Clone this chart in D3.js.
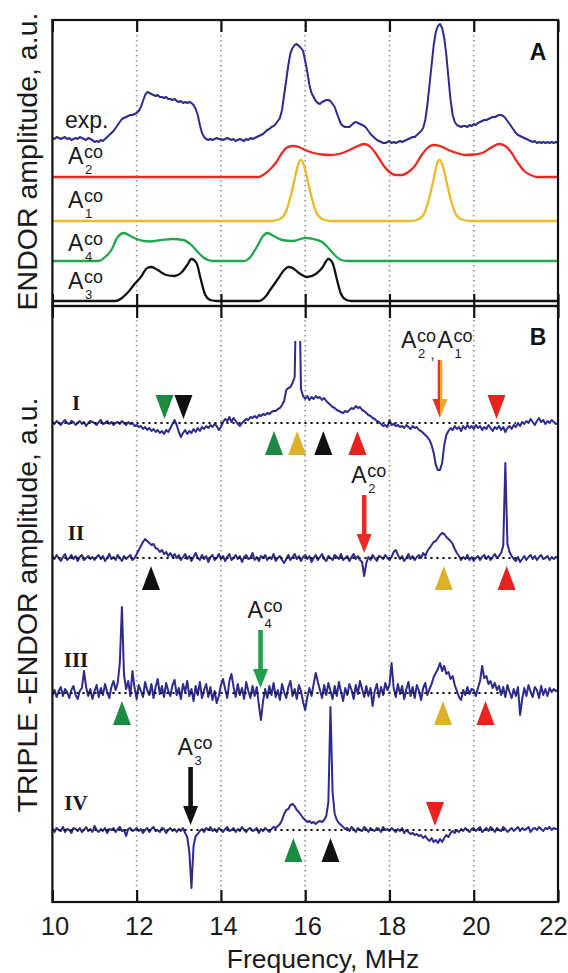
<!DOCTYPE html>
<html>
<head>
<meta charset="utf-8">
<script src="https://cdn.jsdelivr.net/npm/d3@7"></script>
<style>
  html, body { margin: 0; padding: 0; background: #fff; }
  svg { display: block; }
</style>
</head>
<body>
<svg id="chart"></svg>
<script>
// ---- data ----
const tickFreqs = [10, 12, 14, 16, 18, 20, 22];
const gridFreqs = [12, 14, 16, 18, 20];

// sampled every 0.05 MHz from 10 to 22 MHz
const expAmp = [
  5,4,6,5,4,5,6,4,5,3,4,5,4,6,5,4,3,5,4,3,
  1,2,1,3,2,4,6,8,10,12,15,18,21,24,25,26,27,28,28,29,
  30,32,36,42,48,51,50,49,48,47,48,46,46,45,46,44,44,43,44,42,
  41,42,40,41,40,41,40,38,34,28,18,10,6,4,3,4,3,4,5,4,
  4,3,4,5,4,3,4,2,3,4,3,2,4,3,5,4,5,6,7,8,
  9,11,13,14,16,17,19,22,25,33,48,63,78,90,95,98,99,97,95,92,
  82,71,58,50,46,42,40,39,41,42,43,43,42,39,36,30,24,19,17,16,
  16,16,18,20,21,20,19,18,17,15,12,9,7,5,3,2,1,0,0,1,
  2,0,1,0,1,2,1,2,3,4,5,6,6,8,10,12,15,23,38,58,
  78,98,111,117,119,115,105,88,65,43,28,21,18,17,16,17,17,16,18,17,
  19,18,20,21,22,23,23,24,25,26,26,27,28,28,27,25,22,19,16,13,
  10,8,7,6,5,4,3,2,1,2,0,1,0,1,0,1,0,1,0,1,
  0
];

// simulated ENDOR components [MHz, amplitude]
const a2Curve = [[10,0],[14.9,0],[15.0,2],[15.15,7],[15.3,14],[15.45,24],[15.55,29],[15.7,31],[15.85,30],[16.0,27],[16.2,24],[16.4,22.5],[16.6,22],[16.8,23],[17.0,26],[17.2,30],[17.4,33],[17.55,30],[17.7,22],[17.85,12],[18.0,5],[18.15,2],[18.3,2],[18.45,5],[18.6,11],[18.75,21],[18.9,29],[19.05,32],[19.2,31],[19.4,27],[19.6,24],[19.8,22],[20.0,22.5],[20.2,24],[20.4,29],[20.6,33],[20.75,31],[20.9,24],[21.05,14],[21.2,6],[21.35,2],[21.5,0],[22,0]];
const a1Curve = [[10,0],[15.2,0],[15.4,2],[15.55,10],[15.65,24],[15.75,42],[15.83,56],[15.9,61],[15.97,56],[16.05,42],[16.15,24],[16.25,10],[16.4,2],[16.6,0],[18.5,0],[18.7,2],[18.85,10],[18.95,24],[19.05,42],[19.12,56],[19.19,61],[19.26,56],[19.34,42],[19.44,24],[19.54,10],[19.69,2],[19.9,0],[22,0]];
const a4Curve = [[10,0],[11.1,0],[11.25,4],[11.4,11],[11.55,24],[11.7,28],[11.85,25],[12.0,22],[12.3,19.5],[12.6,21],[12.85,22],[13.1,21],[13.3,16],[13.45,9],[13.6,3],[13.8,0],[14.55,0],[14.7,4],[14.85,14],[15.0,25],[15.1,28],[15.25,25],[15.45,21],[15.7,20],[16.0,23],[16.2,22],[16.4,19],[16.55,13],[16.7,6],[16.85,1],[17.0,0],[22,0]];
const a3Curve = [[10,0],[11.5,0],[11.65,3],[11.8,9],[11.95,17],[12.1,24],[12.25,33],[12.35,34],[12.5,31],[12.7,26],[12.9,25],[13.05,28],[13.2,36],[13.3,42],[13.42,38],[13.52,22],[13.62,7],[13.75,1],[13.9,0],[14.9,0],[15.05,4],[15.2,13],[15.35,22],[15.5,31],[15.6,34],[15.7,33],[15.85,28],[16.05,24],[16.25,27],[16.4,33],[16.55,42],[16.65,38],[16.75,22],[16.85,7],[16.98,1],[17.1,0],[22,0]];

// TRIPLE traces, sampled every 0.05 MHz from 10 to 22 MHz
const tripleI = [
  1,-1,2,0,-2,1,3,0,-1,2,1,-2,0,2,-1,1,-3,0,2,1,
  0,-2,1,3,-1,0,2,-1,1,-2,0,1,-1,2,0,-2,1,-1,0,-3,
  -2,-4,-3,-6,-4,-7,-5,-8,-6,-9,-7,-10,-8,-11,-7,-9,-5,-1,3,-2,
  -9,-14,-10,-7,-11,-8,-10,-6,-9,-5,-8,-4,-6,-3,-5,-2,-4,-1,-3,-7,
  -4,1,4,2,6,1,5,2,-1,-3,0,2,4,3,6,5,7,5,8,7,
  9,8,10,9,11,12,12,14,15,18,22,33,35,36,40,46,160,160,34,27,
  24,27,23,26,24,27,25,26,23,25,22,20,18,16,15,13,12,11,10,12,
  11,13,15,14,17,15,16,13,12,10,8,7,5,4,2,1,-1,-3,-2,-4,
  3,-2,-1,-3,-2,-4,-3,-5,-2,-4,-6,-3,-5,-4,-7,-8,-10,-12,-14,-17,
  -22,-30,-42,-47,-47,-40,-22,-12,-8,-5,-7,-3,-6,-4,-8,-3,-6,-2,-5,-3,
  -6,-2,-5,-3,-7,-4,-6,-2,-5,-8,-4,-6,-3,-7,-4,-9,-5,-3,-6,-2,
  -4,0,-3,1,-1,2,0,4,1,-2,2,5,1,3,-1,2,0,3,1,-1,
  0
];
const tripleII = [
  2,-1,3,0,-3,1,4,-2,0,3,-1,2,-3,1,3,-2,0,2,-1,1,
  -2,1,3,-1,2,-3,0,4,-1,1,-2,3,0,-3,2,-1,1,3,-2,0,
  4,8,12,16,19,17,15,13,14,10,9,6,8,4,6,2,5,1,4,0,
  3,-2,1,4,-1,2,-3,1,5,0,-2,3,-1,2,-4,1,3,-2,0,4,
  -1,2,-3,1,4,-2,0,3,-1,2,-4,1,3,-1,0,5,-2,1,-3,2,
  0,3,-2,1,-1,4,-3,0,2,-2,-5,-1,3,-2,1,4,-1,2,-3,1,
  3,-1,2,-4,0,3,-2,1,4,-1,-3,2,0,-2,3,1,-1,4,-2,0,
  2,-3,1,4,-1,2,-2,-4,-18,-5,1,-2,3,0,-3,2,1,-1,3,0,
  -2,1,6,8,3,-1,2,-3,0,4,-1,2,-2,1,3,0,5,2,7,10,
  13,16,17,20,23,25,24,21,19,17,14,9,5,2,-2,1,-1,3,-2,1,
  -3,0,2,-2,1,3,-1,2,-2,1,4,0,2,5,12,95,14,6,2,-1,
  -3,1,-4,-1,2,-2,1,3,-1,2,-2,1,3,-1,0,2,-2,1,-1,1,
  0
];
const tripleIII = [
  -2,3,-4,2,6,-3,4,1,-5,3,7,-2,-6,2,5,22,6,-3,4,-6,
  2,8,-4,5,-2,9,1,-5,6,12,3,10,30,86,18,4,12,-3,22,5,
  -6,8,2,-4,11,3,-2,9,-5,6,14,-1,7,-4,10,2,-3,8,13,-2,
  5,-6,9,1,12,-3,4,-8,7,-2,11,-5,3,9,-4,6,-7,2,-10,-3,
  8,14,4,-5,12,19,6,-4,9,-2,5,-6,11,2,-5,7,-3,6,-12,-27,
  -8,4,-5,7,-2,10,-4,3,-7,9,1,-5,6,12,-3,4,-6,8,2,-9,
  -17,-4,5,-3,9,20,11,3,-5,8,-2,10,2,-6,7,-3,11,1,-8,5,
  -2,9,3,-6,8,-1,12,4,-4,7,-3,5,-13,2,9,-4,6,-2,10,3,
  8,30,5,-4,9,-1,7,-6,4,11,-3,6,-5,8,2,-7,5,10,-2,4,
  9,16,20,24,30,22,27,19,21,14,17,8,2,-4,-7,3,-2,6,-1,4,
  3,-3,5,12,27,15,17,9,12,5,10,3,7,-2,6,-4,8,1,-5,4,
  -3,6,-22,-6,5,-3,8,1,-4,6,3,-5,7,-2,4,-3,5,1,4,2,
  3
];
const tripleIV = [
  1,-2,2,0,-1,3,-2,1,0,-3,2,1,-1,2,-2,0,3,-1,1,-2,
  4,0,-2,1,-1,2,-3,1,0,2,-2,1,3,-1,0,-6,1,2,-1,0,
  2,-1,1,-3,0,2,-2,1,3,-1,0,-2,2,1,-3,0,2,-1,1,-2,
  1,-1,2,-3,-7,-22,-58,-16,-6,-4,-1,1,-2,2,0,3,-1,1,-2,2,
  0,-2,1,3,-1,0,2,-2,1,-1,3,0,-2,1,2,-1,0,2,-3,1,
  -1,2,0,-2,1,3,2,4,6,10,16,20,21,25,26,24,20,18,15,12,
  10,8,9,7,8,6,8,9,8,10,14,28,123,38,16,10,7,5,3,1,
  2,-1,3,1,-2,2,0,-1,3,1,-2,2,0,-1,2,1,-2,3,0,1,
  -1,2,0,-2,1,-1,2,-3,0,-2,-4,-3,-5,-4,-6,-5,-8,-6,-9,-11,
  -8,-12,-10,-13,-9,-12,-8,-5,-7,-3,-1,-3,0,-2,1,-1,2,0,-2,1,
  2,-1,1,3,-2,0,2,-1,3,1,-2,2,0,-1,3,1,-2,0,2,-1,
  1,3,-1,2,0,1,3,-2,1,2,0,3,1,-1,2,1,3,0,2,1,
  1
];
const traceNames = ['I', 'II', 'III', 'IV'];
const baselineEnd = [21.0, 21.05, 20.7, 20.75];

// triangles marking lines of each A^co tensor
const markerTrace = [0,0,0,0,0,0,0, 1,1,1, 2,2,2, 3,3,3];
const markerFreq  = [12.66,13.11,20.54,15.26,15.81,16.43,17.24, 12.34,19.29,20.78, 11.65,19.27,20.28, 19.08,15.72,16.6];
const markerDir   = ['down','down','down','up','up','up','up', 'up','up','up', 'up','up','up', 'down','up','up'];
const markerKind  = ['A4','A3','A2','A4','A1','A3','A2', 'A3','A1','A2', 'A4','A1','A2', 'A2','A4','A3'];

// pumped frequencies
const arrowTrace = [0, 1, 2, 3];
const arrowFreq  = [19.2, 17.4, 14.94, 13.28];
const arrowKinds = [['A2','A1'], ['A2'], ['A4'], ['A3']];

// ---- layout ----
const W = 568, H = 973;
const sans = '"Liberation Sans", Arial, Helvetica, sans-serif';
const serif = '"Liberation Serif", "Times New Roman", serif';
const ink = '#1a1a1a';
const blue = '#2d2b8e';
const lineColor = {A1: '#ebb92c', A2: '#ea2a25', A3: '#111111', A4: '#22a64d'};
const triColor  = {A1: '#dcb02a', A2: '#e8221c', A3: '#111111', A4: '#1b8a42'};

const topY = 20, midY = 306, botY = 902;
const left = 52.4, right = 558;

const svg = d3.select('#chart').attr('width', W).attr('height', H)
  .style('font-family', sans);

const x = d3.scaleLinear().domain([10, 22]).range([left, right]);
const amp = base => d3.scaleLinear().domain([0, 100]).range([base, base - 100]);
const grid = d3.range(expAmp.length).map(i => 10 + i * 0.05);

// dotted grid
svg.append('g').selectAll('line').data(gridFreqs).join('line')
  .attr('x1', d => x(d)).attr('x2', d => x(d))
  .attr('y1', topY).attr('y2', botY)
  .attr('stroke', '#8e8e8e').attr('stroke-width', 1.6)
  .attr('stroke-dasharray', '1.6,3.4');

// ---- panel A ----
const gA = svg.append('g');
const expY = amp(143);
gA.append('path')
  .datum(expAmp)
  .attr('d', d3.line().x((d, i) => x(grid[i])).y(d => expY(d)))
  .attr('fill', 'none').attr('stroke', blue).attr('stroke-width', 2)
  .attr('stroke-linejoin', 'round');

const simCurves = [
  {pts: a2Curve, base: 177, kind: 'A2'},
  {pts: a1Curve, base: 221, kind: 'A1'},
  {pts: a4Curve, base: 261, kind: 'A4'},
  {pts: a3Curve, base: 301, kind: 'A3'}
];
simCurves.forEach(c => {
  const y = amp(c.base);
  gA.append('path')
    .datum(c.pts)
    .attr('d', d3.line().x(d => x(d[0])).y(d => y(d[1])).curve(d3.curveMonotoneX))
    .attr('fill', 'none').attr('stroke', lineColor[c.kind]).attr('stroke-width', 2.3);
});

function coLabel(g, x0, y0, sub) {
  g.append('text').attr('x', x0).attr('y', y0).attr('font-size', 23).attr('fill', ink).text('A');
  g.append('text').attr('x', x0 + 16).attr('y', y0 - 6).attr('font-size', 18).attr('fill', ink).text('co');
  g.append('text').attr('x', x0 + 17).attr('y', y0 + 10).attr('font-size', 13).attr('fill', ink).text(sub);
}

gA.append('text').attr('x', 65).attr('y', 128).attr('font-size', 23).attr('fill', ink).text('exp.');
[['2', 164], ['1', 208], ['4', 251], ['3', 289]].forEach(([s, y]) => coLabel(gA, 68, y, s));

// ---- panel B ----
const gB = svg.append('g');
const traces = [tripleI, tripleII, tripleIII, tripleIV];
const baselines = [423, 558, 693, 830];

svg.append('clipPath').attr('id', 'clipI')
  .append('rect').attr('x', left).attr('y', 341).attr('width', right - left).attr('height', botY - 341);

traces.forEach((t, k) => {
  const y = amp(baselines[k]);
  gB.append('path')
    .datum(t)
    .attr('d', d3.line().x((d, i) => x(grid[i])).y(d => y(d)))
    .attr('fill', 'none').attr('stroke', blue).attr('stroke-width', 2)
    .attr('stroke-linejoin', 'round')
    .attr('clip-path', k === 0 ? 'url(#clipI)' : null);
  gB.append('line')
    .attr('x1', x(10)).attr('x2', x(baselineEnd[k]))
    .attr('y1', y(0)).attr('y2', y(0))
    .attr('stroke', '#111').attr('stroke-width', 2.2)
    .attr('stroke-dasharray', '2.2,3.8');
});

// roman numerals
const numeralY = [410, 540, 667, 810];
gB.selectAll('text.num').data(traceNames).join('text')
  .attr('class', 'num')
  .attr('x', 76).attr('y', (d, i) => numeralY[i])
  .attr('text-anchor', 'middle')
  .attr('font-family', serif).attr('font-weight', 'bold').attr('font-size', 21)
  .attr('fill', ink).text(d => d);

// triangles
const triW = 18, triH = 24;
gB.selectAll('path.tri').data(markerFreq).join('path')
  .attr('class', 'tri')
  .attr('d', (f, i) => {
    const cx = x(f), b = baselines[markerTrace[i]];
    if (markerDir[i] === 'down') {
      const tip = b - 4;
      return `M${cx - triW / 2},${tip - triH}L${cx + triW / 2},${tip - triH}L${cx},${tip}Z`;
    }
    const tp = b + 8;
    return `M${cx},${tp}L${cx + triW / 2},${tp + triH}L${cx - triW / 2},${tp + triH}Z`;
  })
  .attr('fill', (f, i) => triColor[markerKind[i]]);

// arrows with labels
const arrowLen = 58, headW = 15, headH = 19, shaftW = 4.6;
arrowFreq.forEach((f, i) => {
  const cx = x(f);
  const tip = baselines[arrowTrace[i]] - 5;
  const top = tip - arrowLen;
  const kinds = arrowKinds[i];
  const g = gB.append('g');
  if (kinds.length === 1) {
    const c = kinds[0] === 'A4' ? '#1fa04a' : lineColor[kinds[0]];
    g.append('rect').attr('x', cx - shaftW / 2).attr('y', top)
      .attr('width', shaftW).attr('height', arrowLen - headH + 1).attr('fill', c);
    g.append('path')
      .attr('d', `M${cx - headW / 2},${tip - headH}L${cx + headW / 2},${tip - headH}L${cx},${tip}Z`)
      .attr('fill', c);
  } else {
    const cl = '#e8321e', cr = '#f0a82a';
    g.append('rect').attr('x', cx - shaftW / 2).attr('y', top)
      .attr('width', shaftW / 2).attr('height', arrowLen - headH + 1).attr('fill', cl);
    g.append('rect').attr('x', cx).attr('y', top)
      .attr('width', shaftW / 2).attr('height', arrowLen - headH + 1).attr('fill', cr);
    g.append('path')
      .attr('d', `M${cx - headW / 2},${tip - headH}L${cx},${tip - headH}L${cx},${tip}Z`)
      .attr('fill', cl);
    g.append('path')
      .attr('d', `M${cx},${tip - headH}L${cx + headW / 2},${tip - headH}L${cx},${tip}Z`)
      .attr('fill', cr);
  }
  const ly = top - 12;
  const lx0 = kinds.length === 1 ? cx - 13 : cx - 39;
  kinds.forEach((k, j) => {
    const lx = lx0 + j * 36.5;
    coLabel(g, lx, ly, k.slice(1));
    if (j < kinds.length - 1) {
      g.append('text').attr('x', lx + 29.5).attr('y', ly + 11)
        .attr('font-size', 14).attr('fill', ink).text(',');
    }
  });
});

// ---- frames and axes ----
svg.append('rect').attr('x', left).attr('y', topY)
  .attr('width', right - left).attr('height', midY - topY)
  .attr('fill', 'none').attr('stroke', '#111').attr('stroke-width', 2.2);
svg.append('rect').attr('x', left).attr('y', midY)
  .attr('width', right - left).attr('height', botY - midY)
  .attr('fill', 'none').attr('stroke', '#111').attr('stroke-width', 2.2);

function styleTicks(g) {
  g.select('.domain').remove();
  g.selectAll('.tick line').attr('stroke', '#111').attr('stroke-width', 2.2);
}
svg.append('g').attr('transform', `translate(0,${topY})`)
  .call(d3.axisTop(x).tickValues(tickFreqs).tickSizeInner(-12).tickSizeOuter(0).tickFormat(''))
  .call(styleTicks);
svg.append('g').attr('transform', `translate(0,${midY})`)
  .call(d3.axisTop(x).tickValues(tickFreqs).tickSizeInner(12).tickSizeOuter(0).tickFormat(''))
  .call(styleTicks);
svg.append('g').attr('transform', `translate(0,${midY})`)
  .call(d3.axisBottom(x).tickValues(tickFreqs).tickSizeInner(12).tickSizeOuter(0).tickFormat(''))
  .call(styleTicks);
const xAxis = svg.append('g').attr('transform', `translate(0,${botY})`)
  .call(d3.axisBottom(x).tickValues(tickFreqs).tickSizeInner(-12).tickSizeOuter(0).tickPadding(15))
  .call(styleTicks);
xAxis.selectAll('.tick text')
  .attr('font-family', sans).attr('font-size', 25.5).attr('fill', ink)
  .attr('dx', d => d === 22 ? -5 : 2);

// titles
svg.append('text').attr('x', 323).attr('y', 968).attr('text-anchor', 'middle')
  .attr('font-size', 26.5).attr('fill', ink).text('Frequency, MHz');
svg.append('text').attr('transform', 'translate(36.5,161.5) rotate(-90)')
  .attr('text-anchor', 'middle').attr('font-size', 28.5).attr('fill', ink)
  .text('ENDOR amplitude, a.u.');
svg.append('text').attr('transform', 'translate(36.5,605) rotate(-90)')
  .attr('text-anchor', 'middle').attr('font-size', 28.5).attr('fill', ink)
  .text('TRIPLE -ENDOR amplitude, a.u.');

svg.append('text').attr('x', 538).attr('y', 60).attr('text-anchor', 'middle')
  .attr('font-size', 23).attr('font-weight', 'bold').attr('fill', '#111').text('A');
svg.append('text').attr('x', 538).attr('y', 345).attr('text-anchor', 'middle')
  .attr('font-size', 23).attr('font-weight', 'bold').attr('fill', '#111').text('B');
</script>
</body>
</html>
